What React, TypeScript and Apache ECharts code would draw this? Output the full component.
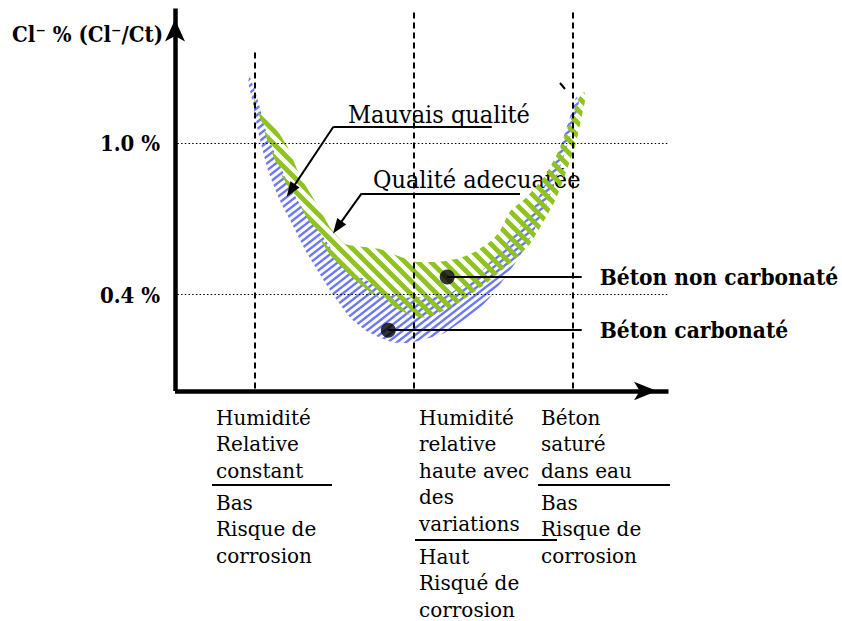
import React, { useEffect, useRef } from "react";
import * as echarts from "echarts";

// ---------- data (axis units: x = humidity regime scale, y = Cl- %) ----------
const yAxisTitle = "Cl⁻ % (Cl⁻/Ct)";
const referenceLevels = [0.4, 1.0];
const dividerX = [1, 3, 5];
const dividerTop = [1.36, 1.52, 1.52];

// non-carbonated concrete band (green)
const greenUpper = [
  [0.95, 1.2], [1.09, 1.12], [1.26, 1.06], [1.42, 0.98], [1.57, 0.87], [1.76, 0.77],
  [1.96, 0.66], [2.14, 0.6], [2.32, 0.59], [2.58, 0.58], [2.83, 0.55], [3.02, 0.53],
  [3.33, 0.53], [3.58, 0.545], [3.77, 0.57], [3.96, 0.61], [4.08, 0.65], [4.21, 0.73],
  [4.4, 0.78], [4.65, 0.87], [4.84, 0.98], [4.96, 1.08], [5.06, 1.17], [5.14, 1.2],
];
const greenLower = [
  [5.16, 1.18], [5.1, 1.09], [5.03, 0.99], [4.92, 0.89], [4.79, 0.78], [4.65, 0.7],
  [4.46, 0.6], [4.27, 0.54], [4.08, 0.49], [3.89, 0.44], [3.71, 0.4], [3.52, 0.36],
  [3.33, 0.33], [3.14, 0.31], [2.95, 0.32], [2.7, 0.36], [2.45, 0.41], [2.22, 0.47],
  [2.07, 0.51], [1.92, 0.57], [1.8, 0.63], [1.57, 0.75], [1.36, 0.86], [1.19, 0.98],
  [1.09, 1.08], [0.98, 1.18],
];
// carbonated concrete band (blue)
const blueUpper = [
  [0.94, 1.26], [1.04, 1.17], [1.14, 1.05], [1.29, 0.93], [1.47, 0.81], [1.67, 0.71],
  [1.88, 0.62], [2.07, 0.53], [2.26, 0.48], [2.45, 0.45], [2.64, 0.41], [2.89, 0.39],
  [3.14, 0.39], [3.39, 0.395], [3.58, 0.43], [3.77, 0.47], [3.87, 0.5], [4.02, 0.55],
  [4.21, 0.62], [4.46, 0.72], [4.67, 0.85], [4.87, 1.01], [5.0, 1.14], [5.04, 1.18],
];
const blueLower = [
  [5.08, 1.17], [5.01, 1.07], [4.91, 0.97], [4.8, 0.87], [4.67, 0.76], [4.52, 0.66],
  [4.33, 0.55], [4.15, 0.47], [3.96, 0.39], [3.77, 0.33], [3.58, 0.29], [3.39, 0.25],
  [3.2, 0.23], [2.95, 0.21], [2.76, 0.21], [2.58, 0.23], [2.39, 0.26], [2.2, 0.31],
  [2.01, 0.39], [1.82, 0.48], [1.63, 0.58], [1.47, 0.68], [1.32, 0.77], [1.17, 0.89],
  [1.04, 1.05], [0.97, 1.17], [0.92, 1.24],
];

const markerNames = ["Béton non carbonaté", "Béton carbonaté"];
const markerPoints = [[3.42, 0.47], [2.68, 0.26]];
const leaderEndX = 5.11;

const calloutNames = ["Mauvais qualité", "Qualité adecuatée"];
const calloutElbow = [[1.99, 1.063], [2.345, 0.8]];
const calloutUnderlineEnd = [[3.98, 1.063], [4.334, 0.8]];
const calloutArrowEnd = [[1.456, 0.811], [2.04, 0.666]];

const columnTop = [
  ["Humidité", "Relative", "constant"],
  ["Humidité", "relative", "haute avec", "des", "variations"],
  ["Béton", "saturé", "dans eau"],
];
const columnBottom = [
  ["Bas", "Risque de", "corrosion"],
  ["Haut", "Risqué de", "corrosion"],
  ["Bas", "Risque de", "corrosion"],
];

const SERIF = '"DejaVu Serif", serif';
const SERIF_C = '"DejaVu Serif Condensed", "DejaVu Serif", serif';

// diagonal stripe tile; "down" = "\" stripes, "up" = "/" stripes
function makeTile(w: number, h: number, color: string, width: number, dir: "down" | "up") {
  const c = document.createElement("canvas");
  c.width = w;
  c.height = h;
  const ctx = c.getContext("2d")!;
  ctx.strokeStyle = color;
  ctx.lineWidth = width;
  for (const n of [-1, 0, 1]) {
    ctx.beginPath();
    if (dir === "down") {
      // y/h - x/w = n
      ctx.moveTo(-w, (n - 1) * h);
      ctx.lineTo(2 * w, (n + 2) * h);
    } else {
      // x/w + y/h = 1 + n
      ctx.moveTo(-w, (n + 2) * h);
      ctx.lineTo(2 * w, (n - 1) * h);
    }
    ctx.stroke();
  }
  return { image: c, repeat: "repeat", imageWidth: w, imageHeight: h };
}

export default function App() {
  const ref = useRef<HTMLDivElement>(null);

  useEffect(() => {
    const el = ref.current!;
    const chart = echarts.init(el, null, { renderer: "svg" });

    const greenPattern = makeTile(13, 13, "#8fc31f", 4.8, "down");
    const bluePattern = makeTile(9, 7, "rgba(70,85,245,0.8)", 2.4, "up");

    const bands = [
      { upper: blueUpper, lower: blueLower, fill: bluePattern },
      { upper: greenUpper, lower: greenLower, fill: greenPattern },
    ];

    const refLineData: any[] = [];
    referenceLevels.forEach((lv) => {
      refLineData.push([
        { coord: [0.03, lv], lineStyle: { color: "#000", width: 1.2, type: [1.5, 2.2] } },
        { coord: [6.2, lv] },
      ]);
    });
    dividerX.forEach((x, i) => {
      refLineData.push([
        { coord: [x, 0.03], lineStyle: { color: "#000", width: 2, type: [6, 4] } },
        { coord: [x, dividerTop[i]] },
      ]);
    });
    calloutNames.forEach((_, i) => {
      refLineData.push([
        { coord: calloutElbow[i], lineStyle: { color: "#000", width: 2, type: "solid" } },
        { coord: calloutUnderlineEnd[i] },
      ]);
      refLineData.push([
        { coord: calloutElbow[i], lineStyle: { color: "#000", width: 2, type: "solid" } },
        { coord: calloutArrowEnd[i], symbol: "triangle", symbolSize: [11, 15] },
      ]);
    });

    const leaderData = markerPoints.map((p, i) => [
      {
        coord: p,
        name: markerNames[i],
        label: { show: true, formatter: markerNames[i] },
      },
      { coord: [leaderEndX, p[1]] },
    ]);

    const txt = (text: string, x: number, y: number, font: string, extra: any = {}) => ({
      type: "text",
      x,
      y,
      style: {
        text,
        font,
        fill: "#000",
        align: "left",
        verticalAlign: "middle",
        textAlign: "left",
        textVerticalAlign: "middle",
        ...extra,
      },
    });

    const graphic: any[] = [
      txt(yAxisTitle, 163, 34, `bold 22px ${SERIF_C}`, {
        align: "right",
        textAlign: "right",
      }),
      txt(calloutNames[0], 348, 114, `25px ${SERIF_C}`),
      txt(calloutNames[1], 373, 179, `25px ${SERIF_C}`),
      {
        type: "line",
        shape: { x1: 560, y1: 83, x2: 565, y2: 89 },
        style: { stroke: "#000", lineWidth: 2 },
      },
    ];

    const colX = [216, 419, 541];
    const underline = [
      [212, 332, 485],
      [415, 557, 540],
      [538, 670, 485],
    ];
    const bottomTop = [489.5, 543.5, 489.5];
    columnTop.forEach((lines, i) => {
      graphic.push(
        txt(lines.join("\n"), colX[i], 404.5, `20px ${SERIF}`, {
          lineHeight: 26.5,
          verticalAlign: "top",
          textVerticalAlign: "top",
        })
      );
      graphic.push({
        type: "line",
        shape: { x1: underline[i][0], y1: underline[i][2], x2: underline[i][1], y2: underline[i][2] },
        style: { stroke: "#000", lineWidth: 2 },
      });
      graphic.push(
        txt(columnBottom[i].join("\n"), colX[i], bottomTop[i], `20px ${SERIF}`, {
          lineHeight: 26.5,
          verticalAlign: "top",
          textVerticalAlign: "top",
        })
      );
    });

    chart.setOption({
      animation: false,
      backgroundColor: "#fff",
      grid: { left: 175, right: 173.5, top: 8.5, bottom: 230, containLabel: false, outerBoundsMode: "none" },
      xAxis: {
        type: "value",
        min: 0,
        max: 6.2,
        axisLine: {
          show: true,
          onZero: false,
          symbol: ["none", "arrow"],
          symbolSize: [14, 23],
          symbolOffset: [0, -11.5],
          lineStyle: { color: "#000", width: 4.5, cap: "butt" },
        },
        axisTick: { show: false },
        axisLabel: { show: false },
        splitLine: { show: false },
      },
      yAxis: {
        type: "value",
        min: 0.02,
        max: 1.53,
        axisLine: {
          show: true,
          onZero: false,
          symbol: ["none", "arrow"],
          symbolSize: [15, 22],
          symbolOffset: [0, -11],
          lineStyle: { color: "#000", width: 4.5, cap: "butt" },
        },
        axisTick: { show: false },
        splitLine: { show: false },
        axisLabel: {
          show: true,
          customValues: referenceLevels,
          formatter: (v: number) => v.toFixed(1) + " %",
          margin: 15,
          color: "#000",
          fontFamily: SERIF_C,
          fontWeight: "bold",
          fontSize: 22,
        },
      },
      series: [
        {
          type: "custom",
          name: "bands",
          silent: true,
          data: bands.map((_, i) => [i, 0.5]),
          encode: { x: 0, y: 1 },
          renderItem: (params: any, api: any) => {
            const b = bands[params.dataIndex];
            const pts = b.upper.concat(b.lower).map((p) => api.coord(p));
            return {
              type: "polygon",
              shape: { points: pts, smooth: 0.15 },
              style: { fill: b.fill, stroke: null },
            };
          },
          markLine: {
            silent: true,
            symbol: ["none", "none"],
            label: { show: false },
            lineStyle: { color: "#000" },
            data: refLineData,
          },
        },
        {
          type: "scatter",
          name: "markers",
          silent: true,
          symbol: "circle",
          symbolSize: 15,
          itemStyle: { color: "#000" },
          data: markerPoints,
          z: 5,
          markLine: {
            silent: true,
            symbol: ["none", "none"],
            lineStyle: { color: "#000", width: 2, type: "solid" },
            label: {
              show: true,
              position: "end",
              distance: 18,
              color: "#000",
              fontFamily: SERIF_C,
              fontWeight: "bold",
              fontSize: 22.5,
            },
            data: leaderData,
          },
        },
      ],
      graphic,
    });

    return () => chart.dispose();
  }, []);

  return (
    <div
      ref={ref}
      style={{ position: "fixed", left: 0, top: 0, width: 842, height: 621, background: "#fff" }}
    />
  );
}
